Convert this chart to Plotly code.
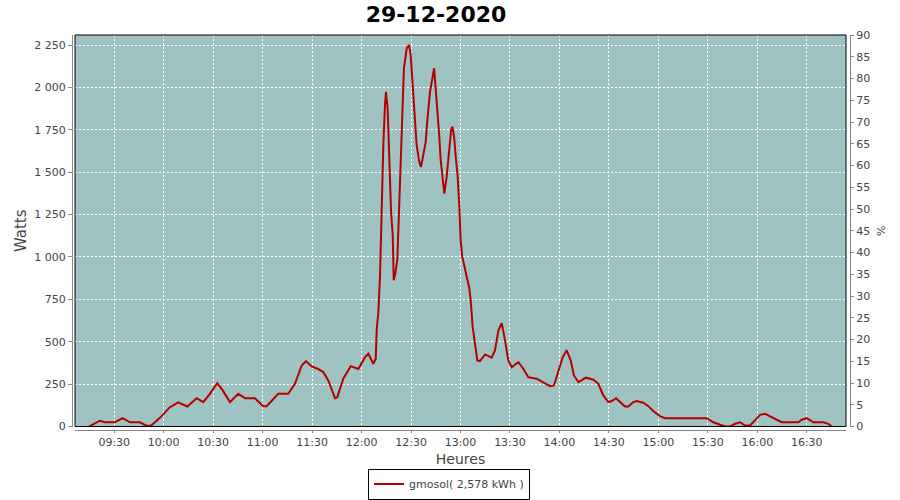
import pandas as pd
import plotly.graph_objects as go

title_text = "29-12-2020"
series_name = "gmosol( 2,578 kWh )"
day = "2020-12-29"

# minutes after 09:00
minutes = [14.8, 19.3, 21.3, 24.4, 30.4, 35.1, 39.5, 45.6, 49.7, 52.3,
           57.7, 63.8, 68.8, 74.3, 80.0, 84.0, 88.0, 92.5, 95.8, 100.2,
           105.2, 109.3, 115.3, 120.4, 122.4, 129.5, 135.5, 139.6, 143.7, 146.3,
           149.7, 153.7, 156.8, 159.8, 163.9, 165.3, 168.9, 173.4, 178.0, 182.1,
           184.1, 187.1, 188.6, 189.2, 190.2, 191.2, 192.2, 193.2, 194.2, 194.8,
           195.8, 196.8, 197.9, 198.9, 199.5, 200.5, 201.7, 202.7, 203.7, 204.7,
           205.7, 207.4, 208.8, 209.8, 210.7, 212.0, 213.4, 215.0, 216.0, 217.4,
           218.9, 219.9, 221.5, 224.0, 225.6, 227.0, 228.0, 229.2, 230.2, 231.6,
           233.0, 234.3, 235.1, 236.1, 237.3, 238.3, 239.3, 240.1, 241.1, 242.7,
           243.8, 245.2, 246.2, 247.4, 248.8, 250.2, 251.8, 254.9, 258.9, 260.9,
           263.0, 265.0, 267.0, 269.0, 271.1, 275.1, 278.1, 281.1, 286.2, 290.2,
           294.3, 296.7, 299.3, 302.0, 304.4, 306.8, 308.8, 311.5, 316.1, 320.6,
           323.6, 326.6, 329.7, 331.7, 334.3, 337.8, 339.8, 341.8, 344.8, 346.9,
           350.9, 353.9, 357.0, 361.0, 364.0, 389.3, 393.4, 397.4, 400.4, 403.5,
           406.5, 409.6, 412.6, 415.6, 418.6, 421.7, 424.7, 427.7, 431.8, 434.8,
           444.9, 446.9, 450.0, 454.0, 460.1, 463.1, 465.1]

watts = [0, 25, 34, 25, 25, 49, 25, 25, 4, 4,
         51, 114, 142, 118, 167, 144, 193, 256, 213, 144,
         193, 167, 167, 120, 120, 193, 193, 252, 360, 386,
         354, 339, 321, 272, 167, 173, 282, 356, 339, 409,
         429, 370, 400, 577, 675, 892, 1305, 1660, 1896, 1974,
         1876, 1561, 1266, 1128, 862, 902, 990, 1266, 1522, 1876,
         2113, 2231, 2250, 2191, 2054, 1915, 1660, 1561, 1531, 1600,
         1679, 1807, 1974, 2113, 1925, 1729, 1571, 1453, 1374, 1472,
         1630, 1748, 1768, 1709, 1571, 1472, 1295, 1098, 1000, 921,
         882, 823, 744, 586, 488, 390, 386, 425, 406, 449,
         567, 610, 508, 390, 350, 380, 341, 291, 282, 262,
         238, 242, 321, 409, 449, 390, 301, 262, 288, 276,
         252, 183, 144, 150, 167, 134, 118, 118, 144, 150,
         140, 120, 90, 61, 49, 49, 25, 10, 2, 0,
         16, 25, 6, 6, 40, 69, 75, 59, 40, 25,
         25, 40, 49, 25, 25, 16, 0]

base = pd.Timestamp(day + " 09:00:00")
times = [base + pd.Timedelta(minutes=m) for m in minutes]

FONT = "DejaVu Sans"
GRAY = "#444444"
AXIS = "#888888"

fig = go.Figure()
fig.add_trace(go.Scatter(x=times, y=watts, mode="lines", name=series_name,
                         line=dict(color="#b50000", width=2), yaxis="y", xaxis="x"))
fig.add_trace(go.Scatter(x=[times[0]], y=[None], mode="lines", showlegend=False,
                         yaxis="y2", xaxis="x", hoverinfo="skip"))

W, H = 900, 500
ml, mr, mt, mb = 72, 50, 35, 70
pw = W - ml - mr
ph = H - mt - mb

fig.update_layout(
    width=W, height=H,
    margin=dict(l=ml, r=mr, t=mt, b=mb, autoexpand=False),
    paper_bgcolor="white",
    plot_bgcolor="#9ec3c2",
    separators=", ",
    font=dict(family=FONT, size=11, color=GRAY),
    title=dict(text="<b>" + title_text + "</b>", x=(436 - ml) / pw, xanchor="center",
               y=1 - 14 / H, yanchor="middle", xref="paper",
               font=dict(family=FONT, size=22, color="black")),
    xaxis=dict(
        type="date",
        domain=[3 / pw, (846 - ml) / pw],
        anchor="free", position=0,
        range=[base + pd.Timedelta(minutes=6.2), base + pd.Timedelta(minutes=473.8)],
        tick0=day + " 09:30:00", dtick=30 * 60 * 1000, tickformat="%H:%M",
        showline=True, linecolor=AXIS, linewidth=1,
        ticks="outside", ticklen=2, tickcolor=AXIS,
        showgrid=True, gridcolor="white", gridwidth=1, griddash="2px,2px",
        zeroline=False,
        tickfont=dict(family=FONT, size=11, color=GRAY),
        title=dict(text="Heures", standoff=5, font=dict(family=FONT, size=14, color=GRAY)),
    ),
    yaxis=dict(
        domain=[(430 - 426.5) / ph, 1],
        anchor="free", position=0,
        range=[0, 2309],
        tick0=0, dtick=250, separatethousands=True, tickformat=",d",
        showline=True, linecolor=AXIS, linewidth=1,
        ticks="outside", ticklen=4, tickcolor=AXIS,
        showgrid=True, gridcolor="white", gridwidth=1, griddash="2px,2px",
        zeroline=False,
        tickfont=dict(family=FONT, size=11, color=GRAY),
        title=dict(text="Watts", standoff=3, font=dict(family=FONT, size=15, color=GRAY)),
    ),
    yaxis2=dict(
        overlaying="y", side="right", anchor="free", position=1,
        range=[0, 90], tick0=0, dtick=5,
        showline=True, linecolor=AXIS, linewidth=1,
        ticks="outside", ticklen=3, tickcolor=AXIS,
        showgrid=False, zeroline=False,
        tickfont=dict(family=FONT, size=11, color=GRAY),
        title=dict(text="%", standoff=8, font=dict(family=FONT, size=11, color=GRAY)),
    ),
    legend=dict(
        orientation="h", x=(449 - ml) / pw, xanchor="center", y=-(499.5 - 430) / ph, yanchor="bottom",
        bgcolor="white", bordercolor="black", borderwidth=1,
        font=dict(family=FONT, size=11, color=GRAY), itemwidth=30,
    ),
    shapes=[dict(type="rect", xref="x domain", yref="y domain", x0=0, x1=1, y0=0, y1=1,
                 line=dict(color="black", width=1), fillcolor="rgba(0,0,0,0)", layer="above")],
    showlegend=True,
)

fig.write_html("out.html", config={"displayModeBar": False},
               post_script="document.body.style.margin='0';document.body.style.overflow='hidden';")
